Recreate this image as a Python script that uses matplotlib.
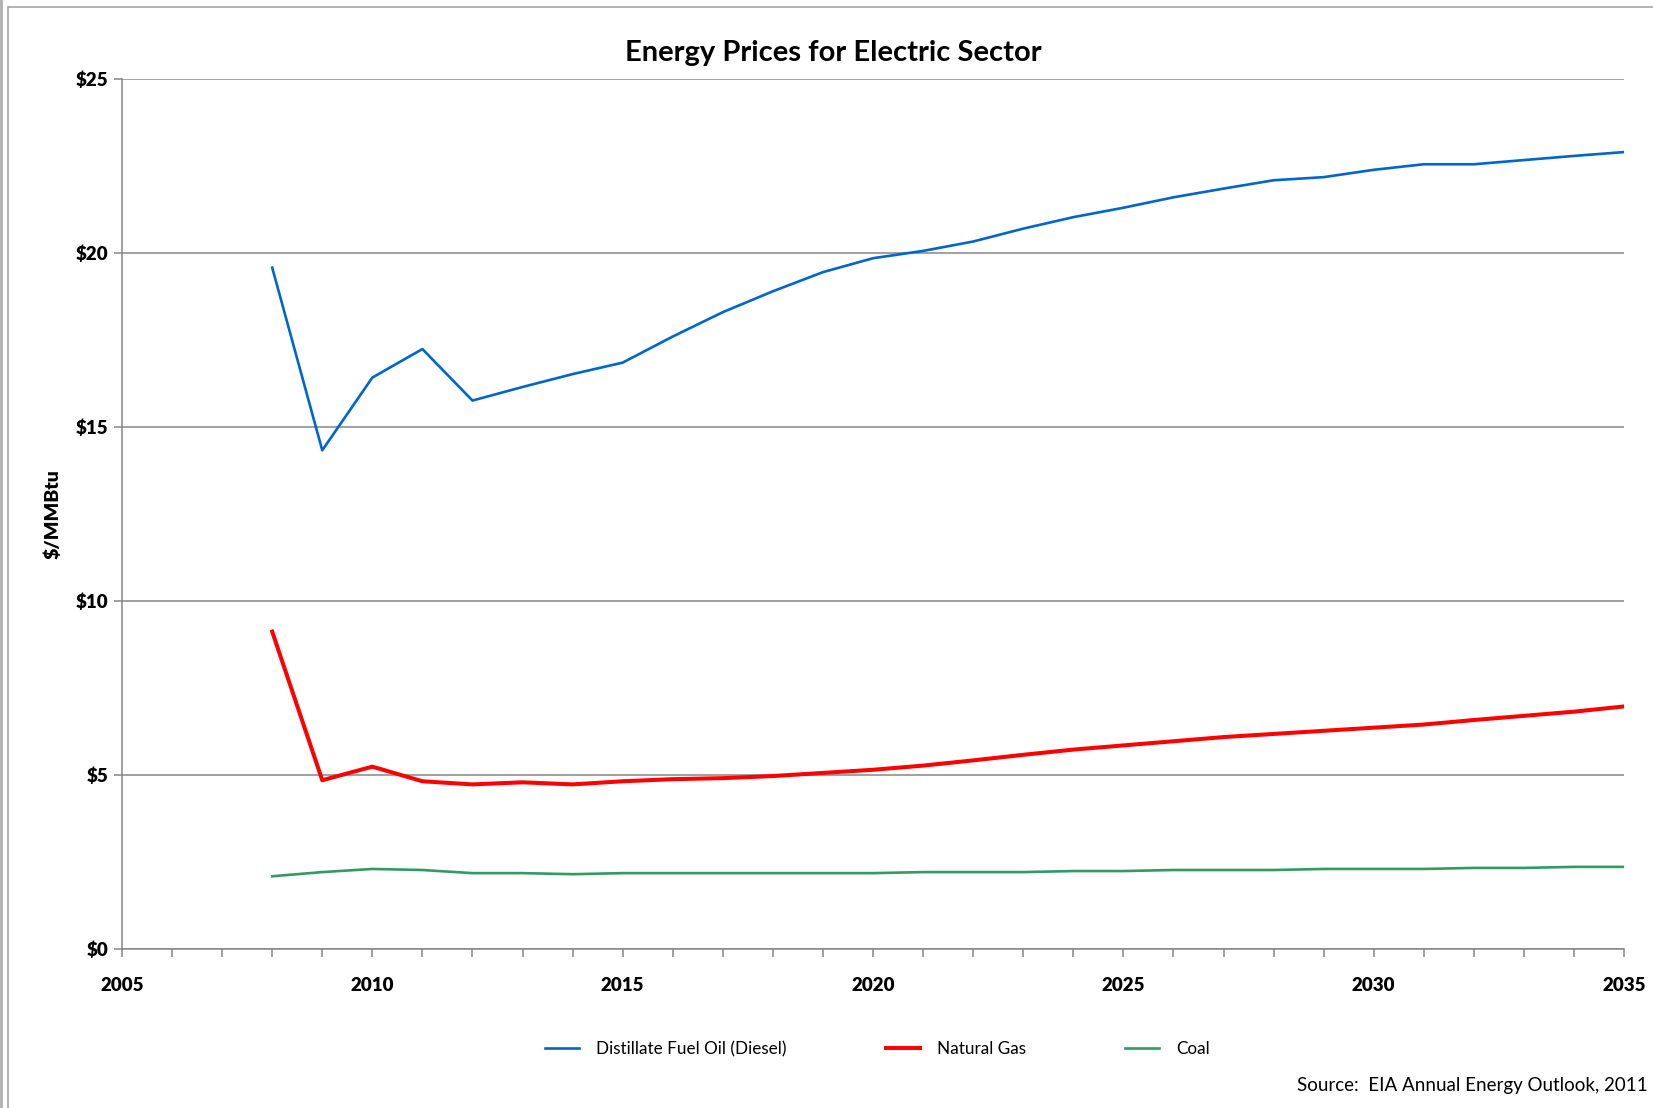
import matplotlib.pyplot as plt
from matplotlib.patches import Rectangle

# years and prices ($/MMBtu)
years = list(range(2008, 2036))
diesel = [19.58, 14.33, 16.42, 17.24, 15.76, 16.15, 16.52, 16.85, 17.6, 18.3,
          18.9, 19.45, 19.85, 20.06, 20.33, 20.7, 21.03, 21.3, 21.6, 21.85,
          22.09, 22.18, 22.39, 22.55, 22.55, 22.67, 22.79, 22.9]
natgas = [9.12, 4.85, 5.24, 4.82, 4.73, 4.79, 4.73, 4.82, 4.88, 4.91,
          4.97, 5.06, 5.15, 5.27, 5.42, 5.58, 5.73, 5.85, 5.97, 6.09,
          6.18, 6.27, 6.36, 6.45, 6.58, 6.70, 6.82, 6.97]
coal = [2.09, 2.21, 2.30, 2.27, 2.18, 2.18, 2.15, 2.18, 2.18, 2.18,
        2.18, 2.18, 2.18, 2.21, 2.21, 2.21, 2.24, 2.24, 2.27, 2.27,
        2.27, 2.30, 2.30, 2.30, 2.33, 2.33, 2.36, 2.36]

y_ticks = [0, 5, 10, 15, 20, 25]
y_labels = ['$0', '$5', '$10', '$15', '$20', '$25']
x_major = [2005, 2010, 2015, 2020, 2025, 2030, 2035]

plt.rcParams['font.family'] = ['Lato', 'DejaVu Sans']
grid_col = '#868686'

fig = plt.figure(figsize=(16.53, 11.08), dpi=100)
ax = fig.add_axes([0.0738, 0.1435, 0.9087, 0.7852])

# chart area frame
fig.patches.append(Rectangle((8 / 1653, -0.01), 1.02, 1 - 7 / 1108 + 0.01,
                             transform=fig.transFigure, fill=False,
                             edgecolor='#a6a6a6', lw=1.2))
fig.patches.append(Rectangle((0, 0), 2.5 / 1653, 1, transform=fig.transFigure,
                             color='#b4b4b4', lw=0))

ax.plot(years, diesel, color='#0066CC', lw=1.9, label='Distillate Fuel Oil (Diesel)')
ax.plot(years, natgas, color='#FF0000', lw=2.9, label='Natural Gas')
ax.plot(years, coal, color='#339966', lw=1.9, label='Coal')

ax.set_xlim(2005, 2035)
ax.set_ylim(0, 25)
ax.set_yticks(y_ticks)
ax.set_yticklabels(y_labels)
ax.set_xticks(x_major)
ax.set_xticks(range(2005, 2036), minor=True)
ax.grid(axis='y', color=grid_col, lw=1.1)
ax.set_axisbelow(True)

for s in ['top', 'right']:
    ax.spines[s].set_visible(False)
for s in ['left', 'bottom']:
    ax.spines[s].set_color(grid_col)
    ax.spines[s].set_linewidth(1.1)

ax.tick_params(axis='both', which='both', color=grid_col, width=1.1, length=6)
ax.tick_params(axis='y', pad=4)
ax.tick_params(axis='x', pad=14)
for lab in ax.get_xticklabels() + ax.get_yticklabels():
    lab.set_fontsize(13.5)
    lab.set_fontweight('heavy')

ax.set_ylabel('$/MMBtu', fontsize=14, fontweight='heavy')
ax.yaxis.set_label_coords(-0.040, 0.5)

fig.text(0.504, 0.952, 'Energy Prices for Electric Sector', ha='center',
         va='center', fontsize=21, fontweight='bold')

fig.legend(loc='center', bbox_to_anchor=(0.531, 0.053), ncol=3, frameon=False,
           fontsize=12.3, handlelength=2.0, columnspacing=5.8, handletextpad=1.0)

fig.text(0.997, 0.02, 'Source:  EIA Annual Energy Outlook, 2011', ha='right',
         va='center', fontsize=13.5)

fig.savefig('out.png', dpi=100)
